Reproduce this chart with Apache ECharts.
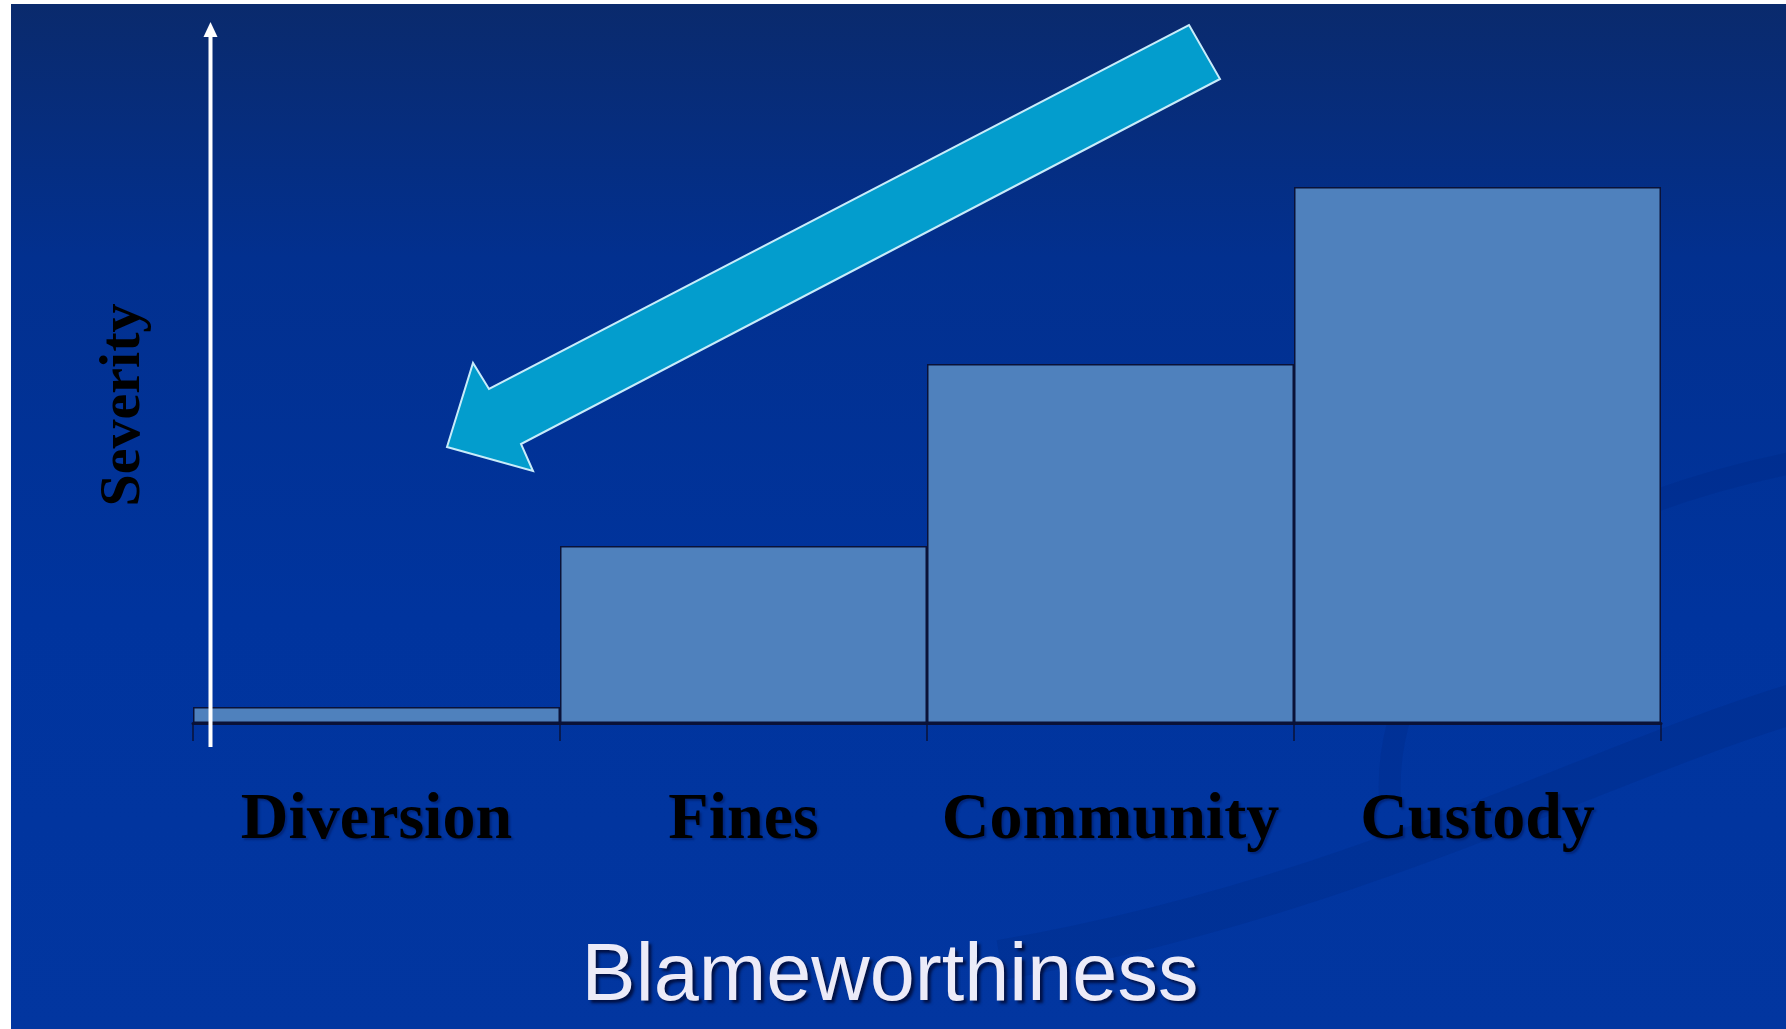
<!DOCTYPE html>
<html>
<head>
<meta charset="utf-8">
<script src="https://cdn.jsdelivr.net/npm/echarts@6/dist/echarts.min.js"></script>
<style>
html,body{margin:0;padding:0;background:#ffffff;}
#c{width:1786px;height:1029px;}
</style>
</head>
<body>
<div id="c"></div>
<script>
// ---- data ----
const categories = ['Diversion', 'Fines', 'Community', 'Custody'];
const severity = [0.3, 3.3, 6.7, 10];
const yMax = 10;
const xTitle = 'Blameworthiness';
const yTitle = 'Severity';

// ---- layout ----
const W = 1786, H = 1029;
const gridLeft = 193, gridRight = 125, gridTop = 187, gridBottom = 306;

const chart = echarts.init(document.getElementById('c'), null, {renderer: 'canvas'});

const option = {
  animation: false,
  backgroundColor: {
    type: 'linear', x: 0, y: 0, x2: 0, y2: 1,
    colorStops: [
      {offset: 0, color: '#0a2a6c'},
      {offset: 0.25, color: '#02308f'},
      {offset: 0.6, color: '#00349e'},
      {offset: 1, color: '#0236a0'}
    ]
  },
  grid: {left: gridLeft, right: gridRight, top: gridTop, bottom: gridBottom, containLabel: false},
  xAxis: {
    type: 'category',
    data: categories,
    boundaryGap: true,
    z: 5,
    axisLine: {show: true, lineStyle: {color: '#0a1238', width: 3}},
    axisTick: {show: true, length: 18, interval: 0, lineStyle: {color: '#0a1238', width: 1.5}},
    axisLabel: {
      interval: 0,
      margin: 98,
      verticalAlign: 'middle',
      color: '#000000',
      fontFamily: '"Liberation Serif", "Times New Roman", serif',
      fontWeight: 'bold',
      fontSize: 66,
      textShadowColor: 'rgba(0,0,40,0.3)',
      textShadowBlur: 2,
      textShadowOffsetX: 2,
      textShadowOffsetY: 2
    },
    splitLine: {show: false}
  },
  yAxis: {
    type: 'value',
    min: 0,
    max: yMax,
    show: false
  },
  series: [{
    type: 'bar',
    data: severity,
    barWidth: '100%',
    barCategoryGap: '0%',
    itemStyle: {color: '#4f81bd', borderColor: '#0a1238', borderWidth: 1.5}
  }],
  graphic: [
    // white frame strips
    {type: 'rect', shape: {x: 0, y: 0, width: 11, height: H}, style: {fill: '#ffffff'}, z: 100},
    {type: 'rect', shape: {x: 0, y: 0, width: W, height: 4}, style: {fill: '#ffffff'}, z: 100},
    // faint background swooshes
    {type: 'bezierCurve', shape: {x1: 1000, y1: 960, x2: W + 20, y2: 700, cpx1: 1350, cpy1: 900, cpx2: 1600, cpy2: 760},
      style: {stroke: 'rgba(0,25,100,0.14)', lineWidth: 40, fill: null}, z: -1},
    {type: 'bezierCurve', shape: {x1: 1390, y1: 800, x2: W + 20, y2: 460, cpx1: 1380, cpy1: 600, cpx2: 1600, cpy2: 500},
      style: {stroke: 'rgba(0,25,100,0.12)', lineWidth: 22, fill: null}, z: -1},
    // white severity arrow
    {type: 'line', shape: {x1: 210.5, y1: 36, x2: 210.5, y2: 747}, style: {stroke: '#ffffff', lineWidth: 4}, z: 50},
    {type: 'polygon', shape: {points: [[203.5, 37], [217.5, 37], [210.5, 22]]}, style: {fill: '#ffffff'}, z: 50},
    // cyan arrow
    {type: 'polygon', shape: {points: [[1189, 25], [1220, 79], [521, 444], [533, 471], [447, 447], [473, 363], [489, 389]]},
      style: {fill: '#039dcd', stroke: '#c8ecfa', lineWidth: 2}, z: 40},
    // y title
    {type: 'text', x: 124, y: 405, rotation: Math.PI / 2,
      style: {text: yTitle, fill: '#000000', font: 'bold 58px "Liberation Serif", "Times New Roman", serif',
        textAlign: 'center', textVerticalAlign: 'middle'}, z: 50},
    // x title
    {type: 'text', x: 890, y: 978,
      style: {text: xTitle, fill: '#ecebf8', font: '81px "Liberation Sans", Arial, sans-serif',
        textAlign: 'center', textVerticalAlign: 'middle',
        textShadowColor: 'rgba(0,0,30,0.7)', textShadowBlur: 3, textShadowOffsetX: 3, textShadowOffsetY: 3}, z: 50}
  ]
};
chart.setOption(option);
</script>
</body>
</html>
